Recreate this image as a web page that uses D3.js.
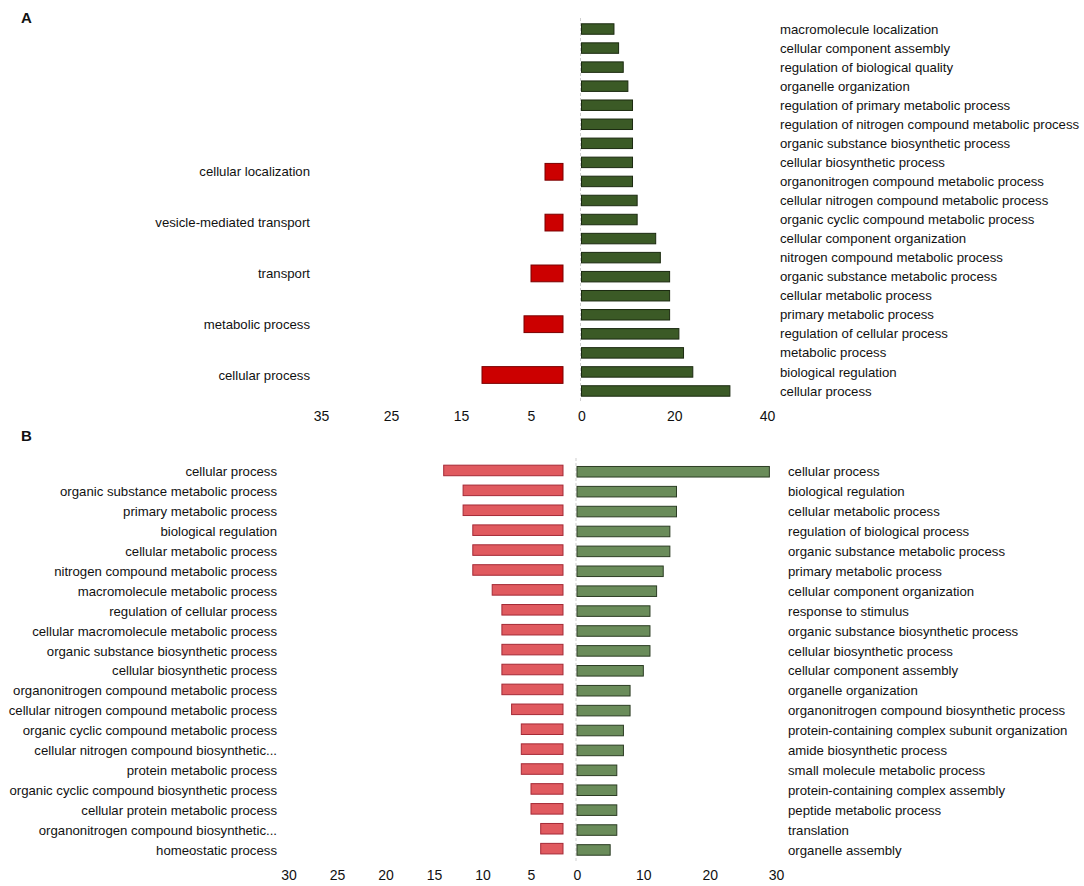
<!DOCTYPE html>
<html>
<head>
<meta charset="utf-8">
<title>GO terms up/down</title>
<script src="https://d3js.org/d3.v7.min.js"></script>
<style>
  body { margin: 0; background: #fff; font-family: "Liberation Sans", Arial, sans-serif; }
  .lbl { font-size: 13.2px; fill: #111; }
  .tick text { font-size: 14px; fill: #111; font-family: "Liberation Sans", Arial, sans-serif; }
  .panel { font-size: 15px; font-weight: bold; fill: #111; }
</style>
</head>
<body>
<script>
// ---- data (panel A) ----
var upCatsA = [
  "macromolecule localization", "cellular component assembly", "regulation of biological quality",
  "organelle organization", "regulation of primary metabolic process",
  "regulation of nitrogen compound metabolic process", "organic substance biosynthetic process",
  "cellular biosynthetic process", "organonitrogen compound metabolic process",
  "cellular nitrogen compound metabolic process", "organic cyclic compound metabolic process",
  "cellular component organization", "nitrogen compound metabolic process",
  "organic substance metabolic process", "cellular metabolic process", "primary metabolic process",
  "regulation of cellular process", "metabolic process", "biological regulation", "cellular process"
];
var upValsA = [7, 8, 9, 10, 11, 11, 11, 11, 11, 12, 12, 16, 17, 19, 19, 19, 21, 22, 24, 32];

var downCatsA = ["cellular localization", "vesicle-mediated transport", "transport", "metabolic process", "cellular process"];
var downValsA = [3, 3, 5, 6, 12];

var leftTicksA = [35, 25, 15, 5];
var rightTicksA = [0, 20, 40];

// ---- data (panel B) ----
var downCatsB = [
  "cellular process", "organic substance metabolic process", "primary metabolic process",
  "biological regulation", "cellular metabolic process", "nitrogen compound metabolic process",
  "macromolecule metabolic process", "regulation of cellular process",
  "cellular macromolecule metabolic process", "organic substance biosynthetic process",
  "cellular biosynthetic process", "organonitrogen compound metabolic process",
  "cellular nitrogen compound metabolic process", "organic cyclic compound metabolic process",
  "cellular nitrogen compound biosynthetic...", "protein metabolic process",
  "organic cyclic compound biosynthetic process", "cellular protein metabolic process",
  "organonitrogen compound biosynthetic...", "homeostatic process"
];
var downValsB = [14, 12, 12, 11, 11, 11, 9, 8, 8, 8, 8, 8, 7, 6, 6, 6, 5, 5, 4, 4];

var upCatsB = [
  "cellular process", "biological regulation", "cellular metabolic process",
  "regulation of biological process", "organic substance metabolic process",
  "primary metabolic process", "cellular component organization", "response to stimulus",
  "organic substance biosynthetic process", "cellular biosynthetic process",
  "cellular component assembly", "organelle organization",
  "organonitrogen compound biosynthetic process", "protein-containing complex subunit organization",
  "amide biosynthetic process", "small molecule metabolic process",
  "protein-containing complex assembly", "peptide metabolic process", "translation", "organelle assembly"
];
var upValsB = [29, 15, 15, 14, 14, 13, 12, 11, 11, 11, 10, 8, 8, 7, 7, 6, 6, 6, 6, 5];

var leftTicksB = [30, 25, 20, 15, 10, 5];
var rightTicksB = [0, 10, 20, 30];

// ---- drawing ----
var W = 1084, H = 886;
var svg = d3.select("body").append("svg")
  .attr("width", W)
  .attr("height", H);

function zip(cats, vals) {
  return cats.map(function(c, i) { return { cat: c, val: vals[i] }; });
}

// draws one panel: left (down) bars and right (up) bars around a centre
function panel(cfg) {
  var g = svg.append("g");

  var yUp = d3.scaleBand().domain(cfg.upCats).range(cfg.upRange).paddingInner(cfg.upPad).paddingOuter(cfg.upPad / 2);
  var yDown = d3.scaleBand().domain(cfg.downCats).range(cfg.downRange).paddingInner(cfg.downPad).paddingOuter(cfg.downPad / 2);

  // centre dashed line
  g.append("line")
    .attr("x1", cfg.xR(0) - 1).attr("x2", cfg.xR(0) - 1)
    .attr("y1", cfg.lineY[0]).attr("y2", cfg.lineY[1])
    .attr("stroke", "#cfcfcf")
    .attr("stroke-dasharray", "3,2");

  // right bars
  g.selectAll(".up")
    .data(zip(cfg.upCats, cfg.upVals))
    .enter().append("rect")
    .attr("x", cfg.xR(0))
    .attr("y", function(d) { return yUp(d.cat); })
    .attr("width", function(d) { return cfg.xR(d.val) - cfg.xR(0); })
    .attr("height", yUp.bandwidth())
    .attr("fill", cfg.upFill)
    .attr("stroke", cfg.upStroke)
    .attr("stroke-width", 1);

  // left bars (end a small gap before the left axis zero)
  g.selectAll(".down")
    .data(zip(cfg.downCats, cfg.downVals))
    .enter().append("rect")
    .attr("x", function(d) { return cfg.xL(d.val); })
    .attr("y", function(d) { return yDown(d.cat) + cfg.downShift; })
    .attr("width", function(d) { return cfg.xL(0) - cfg.gap - cfg.xL(d.val); })
    .attr("height", yDown.bandwidth())
    .attr("fill", cfg.downFill)
    .attr("stroke", cfg.downStroke)
    .attr("stroke-width", 1);

  // category labels
  g.selectAll(".upLbl")
    .data(cfg.upCats)
    .enter().append("text")
    .attr("class", "lbl")
    .attr("x", cfg.upLblX)
    .attr("y", function(d) { return yUp(d) + yUp.bandwidth() / 2; })
    .attr("dy", "0.35em")
    .text(function(d) { return d; });

  g.selectAll(".downLbl")
    .data(cfg.downCats)
    .enter().append("text")
    .attr("class", "lbl")
    .attr("x", cfg.downLblX)
    .attr("y", function(d) { return yDown(d) + yDown.bandwidth() / 2; })
    .attr("dy", "0.35em")
    .attr("text-anchor", "end")
    .text(function(d) { return d; });

  // value axes (labels only)
  var axL = g.append("g")
    .attr("transform", "translate(0," + cfg.axisY + ")")
    .call(d3.axisBottom(cfg.xL).tickValues(cfg.leftTicks).tickSize(0).tickPadding(0));
  var axR = g.append("g")
    .attr("transform", "translate(0," + cfg.axisY + ")")
    .call(d3.axisBottom(cfg.xR).tickValues(cfg.rightTicks).tickSize(0).tickPadding(0));
  axL.select(".domain").remove();
  axR.select(".domain").remove();

  svg.append("text")
    .attr("class", "panel")
    .attr("x", 21)
    .attr("y", cfg.letterY)
    .text(cfg.letter);
}

panel({
  letter: "A", letterY: 23,
  upCats: upCatsA, upVals: upValsA,
  downCats: downCatsA, downVals: downValsA,
  upRange: [19.5, 400.5], upPad: 0.45,
  downRange: [146.4, 400.4], downPad: 0.67, downShift: 0,
  xR: d3.scaleLinear().domain([0, 40]).range([581.5, 767]),
  xL: d3.scaleLinear().domain([0, 40]).range([566, 286]),
  gap: 3,
  leftTicks: leftTicksA, rightTicks: rightTicksA,
  axisY: 411,
  lineY: [18, 402],
  upFill: "#3b5a26", upStroke: "#1b2a10",
  downFill: "#cc0000", downStroke: "#7a0000",
  upLblX: 780, downLblX: 310
});

panel({
  letter: "B", letterY: 441,
  upCats: upCatsB, upVals: upValsB,
  downCats: downCatsB, downVals: downValsB,
  upRange: [461.8, 859.9], upPad: 0.47,
  downRange: [461.8, 859.9], downPad: 0.47, downShift: -1.3,
  xR: d3.scaleLinear().domain([0, 30]).range([577, 776]),
  xL: d3.scaleLinear().domain([0, 30]).range([579.5, 288.5]),
  gap: 16.5,
  leftTicks: leftTicksB, rightTicks: rightTicksB,
  axisY: 870,
  lineY: [458, 862],
  upFill: "#6a8c5a", upStroke: "#2c3d24",
  downFill: "#e05a5f", downStroke: "#a52a36",
  upLblX: 788, downLblX: 277
});
</script>
</body>
</html>
